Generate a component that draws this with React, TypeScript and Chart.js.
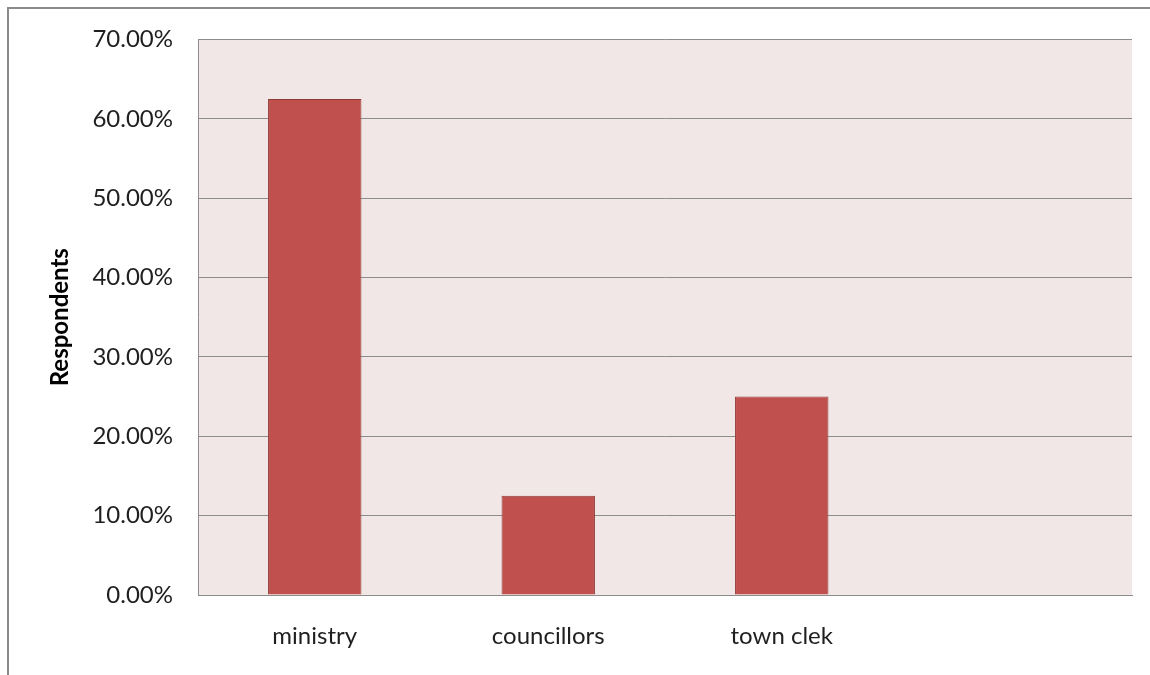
import React, { useEffect, useRef } from "react";
import { Chart, registerables } from "chart.js";

Chart.register(...registerables);

const categories = ["ministry", "councillors", "town clek", ""];
const respondentsPct = [62.5, 12.5, 25, null];
const yTickMax = 70;
const yTickStep = 10;

const plotBg = {
  id: "plotBg",
  beforeDraw(chart: any) {
    const { ctx, chartArea } = chart;
    ctx.save();
    ctx.fillStyle = "#F2E7E7";
    ctx.fillRect(chartArea.left, chartArea.top, chartArea.right - chartArea.left, chartArea.bottom - chartArea.top);
    ctx.restore();
  },
  afterDraw(chart: any) {
    const { ctx, width, height } = chart;
    ctx.save();
    ctx.fillStyle = "#8A8A8A";
    ctx.fillRect(7, 7, 2, height - 7);
    ctx.fillRect(7, 7, width - 7, 2);
    ctx.restore();
  },
};

export default function App() {
  const ref = useRef<HTMLCanvasElement>(null);
  useEffect(() => {
    const chart = new Chart(ref.current!, {
      type: "bar",
      data: {
        labels: categories,
        datasets: [
          {
            data: respondentsPct as any,
            backgroundColor: "#C0504D",
            borderColor: "#8F3A37",
            borderWidth: 1,
            barPercentage: 0.4,
            categoryPercentage: 1,
          },
        ],
      },
      options: {
        animation: false,
        responsive: false,
        devicePixelRatio: 1,
        layout: { padding: { left: 0, right: 18, top: 38, bottom: 0 } },
        plugins: { legend: { display: false }, tooltip: { enabled: false } },
        scales: {
          x: {
            grid: { display: false, drawTicks: false },
            border: { display: true, color: "#8C8C8C", width: 1 },
            ticks: {
              color: "#1F1F1F",
              font: { family: "Lato", size: 24 },
              padding: 27,
              maxRotation: 0,
            },
            afterFit(scale: any) {
              scale.height = 80;
            },
          },
          y: {
            min: 0,
            max: yTickMax,
            grid: { color: "#8C8C8C", lineWidth: 1, drawTicks: false },
            border: { display: true, color: "#8C8C8C", width: 1 },
            ticks: {
              stepSize: yTickStep,
              color: "#1F1F1F",
              font: { family: "Lato", size: 24 },
              padding: 25,
              callback: (v: any) => Number(v).toFixed(2) + "%",
            },
            title: {
              display: true,
              text: "Respondents",
              color: "#000000",
              font: { family: "Lato", size: 24, weight: "bold" },
              padding: { top: 46, bottom: 0 },
            },
            afterFit(scale: any) {
              scale.width = 198;
            },
          },
        },
      },
      plugins: [plotBg],
    });
    return () => chart.destroy();
  }, []);
  return (
    <div style={{ position: "absolute", left: 0, top: 0, width: 1150, height: 675, background: "#fff" }}>
      <canvas ref={ref} width={1150} height={675} style={{ display: "block" }} />
    </div>
  );
}
